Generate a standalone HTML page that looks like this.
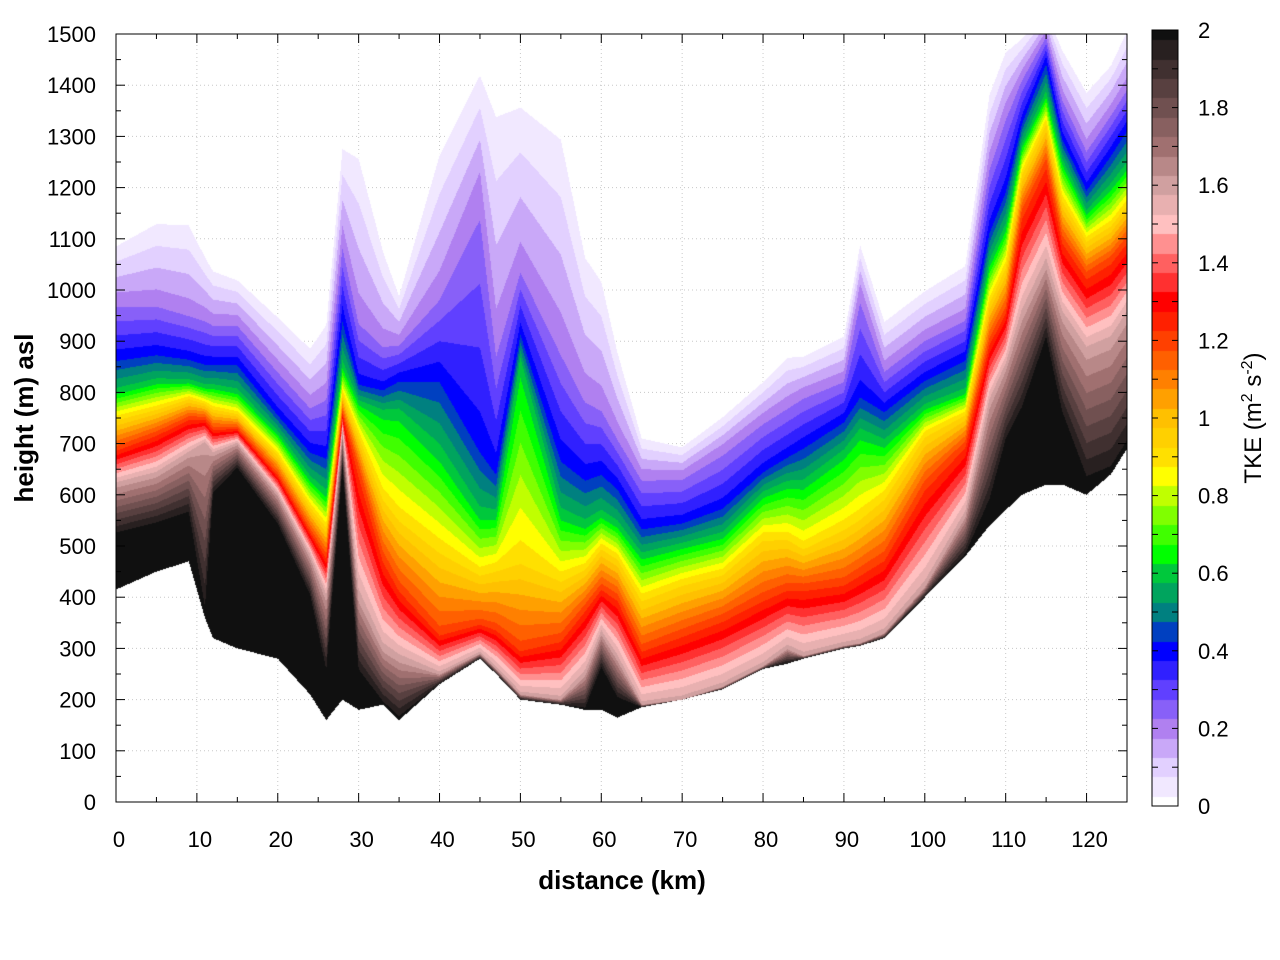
<!DOCTYPE html>
<html><head><meta charset="utf-8">
<style>
body{margin:0;background:#fff;width:1280px;height:960px;overflow:hidden;font-family:"Liberation Sans",sans-serif;}
#wrap{position:relative;width:1280px;height:960px;}
canvas{position:absolute;}
svg{position:absolute;left:0;top:0;}
</style></head>
<body>
<div id="wrap">
<svg id="under" width="1280" height="960"></svg>
<canvas id="heat" width="1011" height="768" style="left:116px;top:34px"></canvas>
<canvas id="cbar" width="26" height="776" style="left:1152px;top:30px"></canvas>
<svg id="over" width="1280" height="960"></svg>
</div>
<script>
// ---- data ----
const distKm = [0,5,9,11,12,15,20,24,26,28,30,33,35,40,45,47,50,55,58,60,62,65,70,75,80,83,85,90,92,95,100,105,108,110,112,115,117,120,123,125];
const ground = [415,450,470,360,320,300,280,210,160,200,180,190,160,230,280,250,200,190,180,180,165,185,200,220,260,270,280,300,305,320,400,480,540,570,600,620,620,600,640,690];
const hBlack = [520,540,560,360,600,650,540,400,250,650,250,190,160,230,280,250,200,190,180,260,200,185,200,220,260,270,280,300,305,320,400,480,580,700,760,900,750,620,640,690];
const h16 = [620,640,680,700,680,700,600,480,400,720,400,300,280,250,290,260,210,200,250,330,280,190,200,225,265,300,285,305,310,330,420,560,780,850,950,1050,950,880,900,950];
const h12 = [690,720,750,750,730,730,640,530,480,760,650,480,420,330,350,340,300,320,380,420,400,300,330,360,400,420,420,430,450,480,620,700,900,960,1150,1250,1100,1030,1060,1100];
const h09 = [750,770,790,780,770,760,680,580,540,800,720,600,560,500,450,460,480,440,460,500,480,400,430,450,520,520,500,540,560,600,720,760,980,1050,1230,1330,1180,1100,1130,1170];
const h06 = [800,820,820,810,810,800,720,630,600,850,780,760,760,680,560,560,860,560,540,560,540,480,500,520,600,620,620,680,720,700,770,800,1050,1120,1280,1380,1250,1150,1200,1240];
const h04 = [870,880,870,860,860,860,760,690,680,950,820,810,830,840,700,650,920,680,640,650,620,540,550,580,650,680,700,750,800,770,830,870,1120,1200,1330,1450,1300,1200,1270,1320];
const h02 = [980,980,960,950,940,940,850,780,800,1100,950,900,900,1000,1200,900,1050,900,800,780,720,640,640,690,750,780,800,830,1000,850,910,950,1250,1350,1420,1500,1380,1280,1350,1400];
const h00 = [1100,1150,1150,1080,1050,1030,960,900,950,1300,1300,1100,1000,1300,1450,1400,1400,1350,1100,1050,900,720,700,760,830,880,880,920,1100,950,1010,1060,1400,1480,1500,1550,1480,1400,1450,1520];
const levelVals = [2.0,1.6,1.2,0.9,0.6,0.4,0.2,0.0];
const xTicks = [0,10,20,30,40,50,60,70,80,90,100,110,120];
const yTicks = [0,100,200,300,400,500,600,700,800,900,1000,1100,1200,1300,1400,1500];
const cTicks = ["0","0.2","0.4","0.6","0.8","1","1.2","1.4","1.6","1.8","2"];

// ---- axes ----
const X0=116,X1=1127,Y0=802,Y1=34;
const xS=d=>X0+(d/125)*(X1-X0);
const yS=h=>Y0-(h/1500)*(Y0-Y1);
const cY=v=>806-(v/2)*776;

const stops=[[0,[255,255,255]],[0.1,[226,208,255]],[0.2,[176,128,240]],[0.3,[96,64,255]],[0.4,[0,0,255]],[0.5,[0,128,128]],[0.6,[0,200,60]],[0.65,[0,255,0]],[0.7,[64,255,0]],[0.8,[192,255,0]],[0.85,[255,255,0]],[0.9,[255,224,0]],[1.0,[255,192,0]],[1.1,[255,128,0]],[1.2,[255,64,0]],[1.3,[255,0,0]],[1.4,[255,96,96]],[1.5,[255,192,192]],[1.6,[208,160,160]],[1.7,[160,112,112]],[1.8,[112,80,80]],[1.9,[64,48,48]],[2.0,[16,16,16]]];
function cmap(v){v=Math.max(0,Math.min(2,Math.round(v*20)/20));
 for(let i=1;i<stops.length;i++){if(v<=stops[i][0]){const a=stops[i-1],b=stops[i],t=(v-a[0])/(b[0]-a[0]);return a[1].map((c,k)=>Math.round(c+(b[1][k]-c)*t));}}
 return stops[stops.length-1][1];}
function lerpArr(arr,d){for(let i=1;i<distKm.length;i++){if(d<=distKm[i]){const t=(d-distKm[i-1])/(distKm[i]-distKm[i-1]);return arr[i-1]+(arr[i]-arr[i-1])*t;}}return arr[arr.length-1];}
function tke(hs,z){for(let i=0;i<hs.length;i++){if(z<hs[i]){if(i===0)return levelVals[0];const t=(z-hs[i-1])/Math.max(1e-6,hs[i]-hs[i-1]);return levelVals[i-1]+(levelVals[i]-levelVals[i-1])*t;}}return 0;}

// heatmap
const hc=document.getElementById('heat').getContext('2d');
const W=1011,H=768,img=hc.createImageData(W,H);
for(let px=0;px<W;px++){
 const d=(px+0.5)/W*125;
 const g=lerpArr(ground,d);
 const hs=[hBlack,h16,h12,h09,h06,h04,h02,h00].map(a=>lerpArr(a,d));
 for(let py=0;py<H;py++){
  const z=(H-py-0.5)/H*1500; if(z<g)continue;
  const v=tke(hs,z); if(v<0.02)continue;
  const c=cmap(v),o=(py*W+px)*4;
  img.data[o]=c[0];img.data[o+1]=c[1];img.data[o+2]=c[2];img.data[o+3]=255;}
}
hc.putImageData(img,0,0);

// colorbar
const cc=document.getElementById('cbar').getContext('2d');
for(let py=0;py<776;py++){const v=(776-py)/776*2;const c=cmap(v);cc.fillStyle=`rgb(${c[0]},${c[1]},${c[2]})`;cc.fillRect(0,py,26,1);}

const NS='http://www.w3.org/2000/svg';
function mk(svg,tag,attrs,name,text){const e=document.createElementNS(NS,tag);for(const k in attrs)e.setAttribute(k,attrs[k]);
 
 
 if(text!==undefined)e.textContent=text;svg.appendChild(e);return e;}
const U=document.getElementById('under'),O=document.getElementById('over');
xTicks.forEach(t=>{if(t>0)mk(U,'line',{x1:xS(t),x2:xS(t),y1:Y0,y2:Y1,stroke:'#c8c8c8','stroke-dasharray':'1,3','stroke-width':1},'x-gridline');});
yTicks.forEach(t=>{if(t>0&&t<1500)mk(U,'line',{x1:X0,x2:X1,y1:yS(t),y2:yS(t),stroke:'#c8c8c8','stroke-dasharray':'1,3','stroke-width':1},'y-gridline');});
mk(O,'rect',{x:X0,y:Y1,width:X1-X0,height:Y0-Y1,fill:'none',stroke:'#000','stroke-width':1},'plot-frame');
for(let t=0;t<=125;t+=5){const L=(t%10===0)?9:5;const x=xS(t);
 mk(O,'line',{x1:x,x2:x,y1:Y0,y2:Y0-L,stroke:'#000'},'x-tick');mk(O,'line',{x1:x,x2:x,y1:Y1,y2:Y1+L,stroke:'#000'},'x-tick-top');}
for(let t=0;t<=1500;t+=50){const L=(t%100===0)?9:5;const y=yS(t);
 mk(O,'line',{x1:X0,x2:X0+L,y1:y,y2:y,stroke:'#000'},'y-tick');mk(O,'line',{x1:X1,x2:X1-L,y1:y,y2:y,stroke:'#000'},'y-tick-right');}
xTicks.forEach(t=>mk(O,'text',{x:xS(t)+3,y:847,'font-size':22,'text-anchor':'middle'},'x-tick-label',String(t)));
yTicks.forEach(t=>mk(O,'text',{x:96,y:yS(t)+8,'font-size':22,'text-anchor':'end'},'y-tick-label',String(t)));
mk(O,'text',{x:622,y:889,'font-size':26,'font-weight':'bold','text-anchor':'middle'},'x-axis-title','distance (km)');
mk(O,'text',{x:0,y:0,'font-size':26,'font-weight':'bold','text-anchor':'middle',transform:'translate(33,418) rotate(-90)'},'y-axis-title','height (m) asl');
mk(O,'rect',{x:1152,y:30,width:26,height:776,fill:'none',stroke:'#000'},'colorbar-frame');
for(let i=0;i<=20;i++){const y=cY(i/10);mk(O,'line',{x1:1152,x2:1158,y1:y,y2:y,stroke:'#000'},'colorbar-tick');mk(O,'line',{x1:1172,x2:1178,y1:y,y2:y,stroke:'#000'},'colorbar-tick');}
cTicks.forEach((s,i)=>mk(O,'text',{x:1198,y:cY(i*0.2)+8,'font-size':22},'colorbar-tick-label',s));
const ct=mk(O,'text',{x:0,y:0,'font-size':24,'text-anchor':'middle',transform:'translate(1261,418) rotate(-90)'},'colorbar-title');
ct.innerHTML='TKE (m<tspan dy="-9" font-size="16">2</tspan><tspan dy="9"> s</tspan><tspan dy="-9" font-size="16">-2</tspan><tspan dy="9">)</tspan>';
</script>
</body></html>
